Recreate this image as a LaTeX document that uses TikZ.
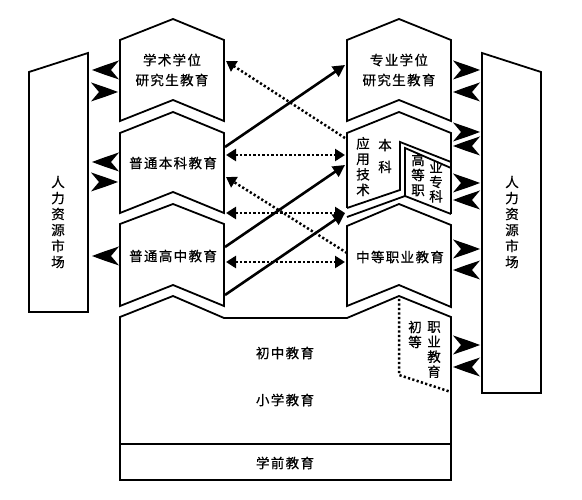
\documentclass[tikz,border=0pt]{standalone}
\usepackage{fontspec}
\newfontfamily\cjk{Noto Sans CJK SC}[LetterSpace=10,FakeBold=0.6]
\newfontfamily\cjkv{Noto Sans CJK SC}[FakeBold=0.6]
\usetikzlibrary{arrows.meta}
\tikzset{
  box/.style={draw, line width=1.8pt, line join=miter, fill=white},
  edge/.style={draw, line width=1.8pt, line join=miter},
  lbl/.style={font=\cjk\fontsize{13.5}{20}\selectfont, inner sep=0pt, align=center},
  vlbl/.style={font=\cjkv\fontsize{13.5}{15.5}\selectfont, inner sep=0pt, align=center},
  solidarr/.style={line width=2.6pt, -{Triangle[length=12pt,width=12pt]}},
  dotline/.style={line width=2.5pt, dash pattern=on 2.2pt off 2.3pt},
  dotarr/.style={dotline, -{Triangle[length=10pt,width=12pt]}},
  dotarr2/.style={dotline, {Triangle[length=10pt,width=12pt]}-{Triangle[length=10pt,width=12pt]}},
  rhead/.pic={\fill (0,0) .. controls (-12,-4.5) .. (-27,-9.5) -- (-19,0) -- (-27,9.5) .. controls (-12,4.5) .. (0,0) -- cycle;},
  lhead/.pic={\fill (0,0) .. controls (12,-4.5) .. (27,-9.5) -- (19,0) -- (27,9.5) .. controls (12,4.5) .. (0,0) -- cycle;}
}
\begin{document}
\begin{tikzpicture}[x=1pt,y=-1pt]
\useasboundingbox (0,0) rectangle (582,500);
% markets
\draw[box] (29,72) -- (88,53) -- (88,312) -- (29,312) -- cycle;
\draw[box] (482,53) -- (541,72) -- (541,393) -- (482,393) -- cycle;
\node[vlbl, font=\cjkv\fontsize{13.5}{16}\selectfont] (mL) at (58,222) {人\\力\\资\\源\\市\\场};
\node[vlbl, font=\cjkv\fontsize{13.5}{16}\selectfont] (mR) at (512,222) {人\\力\\资\\源\\市\\场};
% left column
\draw[box] (120,40) -- (173,19) -- (224,40) -- (224,121) -- (173,100) -- (120,121) -- cycle;
\draw[box] (120,133) -- (173,112) -- (224,133) -- (224,213) -- (173,192) -- (120,213) -- cycle;
\draw[box] (120,224) -- (173,204) -- (224,224) -- (224,306) -- (173,285) -- (120,306) -- cycle;
% right column
\draw[box] (347,40) -- (399,19) -- (451,40) -- (451,121) -- (399,100) -- (347,121) -- cycle;
\fill[white] (347,133) -- (399,112) -- (451,133) -- (451,214) -- (405,196) -- (347,216) -- cycle;
\draw[edge] (347,208) -- (347,133) -- (399,112) -- (451,133) -- (451,214);
\draw[edge] (347,208) -- (400,190) -- (400,142) -- (451,162);
\draw[edge] (347,217) -- (405,196) -- (405,148) -- (451,168);
\draw[edge] (405,196) -- (451,214);
\draw[box] (347,226) -- (399,204) -- (451,225) -- (451,307) -- (399,285) -- (347,306) -- cycle;
% base
\draw[box] (120,317) -- (173,296) -- (224,318) -- (347,318) -- (399,296) -- (451,317) -- (451,480) -- (120,480) -- cycle;
\draw[edge] (120,444) -- (451,444);
\draw[dotline] (399,299) -- (399,375) -- (451,392);
% labels
\node[lbl] (tL1) at (172,70) {学术学位\\研究生教育};
\node[lbl] (tL2) at (173,163) {普通本科教育};
\node[lbl] (tL3) at (173,256) {普通高中教育};
\node[lbl] (tR1) at (399,70) {专业学位\\研究生教育};
\node[lbl] (tR3) at (400,257) {中等职业教育};
\node[vlbl] (tR2a) at (363,166.5) {应\\用\\技\\术};
\node[vlbl, font=\cjkv\fontsize{13.5}{22}\selectfont] (tR2b) at (385,156) {本\\科};
\node[vlbl, font=\cjkv\fontsize{13.5}{15}\selectfont] (tR2c) at (418,175) {高\\等\\职};
\node[vlbl, font=\cjkv\fontsize{13.5}{14.5}\selectfont] (tR2d) at (436,182) {业\\专\\科};
\node[vlbl, font=\cjkv\fontsize{13.5}{15}\selectfont] (tP1) at (415,334.5) {初\\等};
\node[vlbl, font=\cjkv\fontsize{13.5}{15}\selectfont] (tP2) at (434,349.5) {职\\业\\教\\育};
\node[lbl] (tJ) at (285,353) {初中教育};
\node[lbl] (tX) at (285,400) {小学教育};
\node[lbl] (tQ) at (285,463) {学前教育};
% connector coordinates
\coordinate (a1) at (225,147); \coordinate (b1) at (345,65);
\coordinate (a2) at (225,247); \coordinate (b2) at (345,165);
\coordinate (a3) at (225,295); \coordinate (b3) at (345,213);
\coordinate (d1s) at (345,138); \coordinate (d1e) at (226,61);
\coordinate (d2s) at (347,253); \coordinate (d2e) at (226,177);
\coordinate (h1l) at (226,155); \coordinate (h1r) at (345,155);
\coordinate (h2l) at (226,213); \coordinate (h2r) at (345,213);
\coordinate (h3l) at (226,262); \coordinate (h3r) at (345,262);
\draw[dotarr] (d1s) -- (d1e);
\draw[dotarr] (d2s) -- (d2e);
\draw[dotarr2] (h1l) -- (h1r);
\draw[dotarr2] (h2l) -- (h2r);
\draw[dotarr2] (h3l) -- (h3r);
\draw[solidarr] (a1) -- (b1);
\draw[solidarr] (a2) -- (b2);
\draw[solidarr] (a3) -- (b3);
% big arrowheads left
\pic at (92,70) {lhead};
\pic at (118,92) {rhead};
\pic at (92,162) {lhead};
\pic at (118,182) {rhead};
\pic at (92,256) {lhead};
% big arrowheads right
\pic at (480,70) {rhead};
\pic at (453,92) {lhead};
\pic at (480,132) {rhead};
\pic at (453,146) {lhead};
\pic at (480,183) {rhead};
\pic at (453,200) {lhead};
\pic at (480,249) {rhead};
\pic at (453,270) {lhead};
\pic at (480,345) {rhead};
\pic at (453,367) {lhead};
\end{tikzpicture}
\end{document}
